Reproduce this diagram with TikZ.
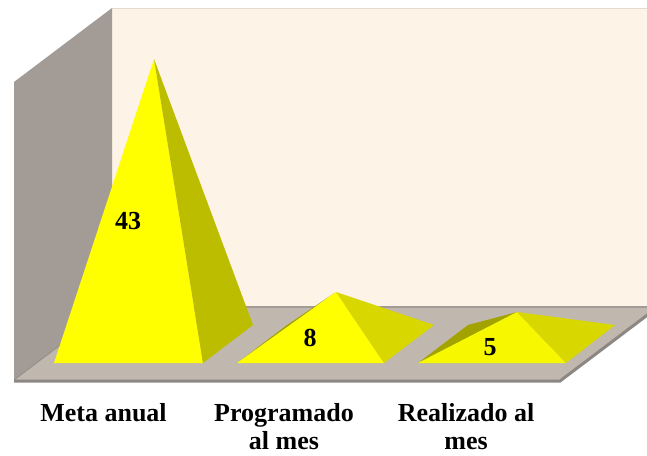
\documentclass[tikz,border=0pt]{standalone}
\usepackage{fontspec}
\setmainfont{Liberation Serif}
\definecolor{backwall}{HTML}{FDF3E6}
\definecolor{sidewall}{HTML}{A39B95}
\definecolor{floortop}{HTML}{C0B8AE}
\definecolor{flooredge}{HTML}{8C8782}
\definecolor{pyrfront}{HTML}{FFFF00}
\definecolor{pyrdark}{HTML}{BDBD00}
\definecolor{pyrmid}{HTML}{D8D800}
\definecolor{pyrleft}{HTML}{A3A300}

\begin{document}
\begin{tikzpicture}
        [x=1pt,y=-1pt,every node/.style={font=\fontsize{26}{28}\selectfont\bfseries,inner sep=0}]

        \useasboundingbox (0,0) rectangle (647,455);

        % walls and floor
        \fill[backwall] (112,8) rectangle (647,306);
        \draw[backwall!90!black, line width=0.6pt] (112,8) -- (647,8);
        \fill[sidewall] (14,82) -- (112,8) -- (112,306) -- (14,380) -- cycle;
        \begin{scope}
          \clip (0,0) rectangle (647,455);
          \fill[floortop] (112,306) -- (660,306) -- (562,380) -- (14,380) -- cycle;
          \draw[sidewall, line width=2pt] (112,307) -- (660,307);
          \draw[flooredge!80!sidewall, line width=0.8pt] (14,380) -- (112,306);
          \draw[flooredge, line width=3pt] (14,381) -- (560,381) -- (658,307);
        \end{scope}

        % corners of the pyramids
        \coordinate (p1fl) at (54,363);
        \coordinate (p1fr) at (203,363);
        \coordinate (p1br) at (253,325);
        \coordinate (p1bl) at (104,325);
        \coordinate (p1a) at (154,59);
        \coordinate (p2fl) at (237,363);
        \coordinate (p2fr) at (384,363);
        \coordinate (p2br) at (434,325);
        \coordinate (p2bl) at (287,325);
        \coordinate (p2a) at (336,292);
        \coordinate (p3fl) at (418,363);
        \coordinate (p3fr) at (566,363);
        \coordinate (p3br) at (615,325);
        \coordinate (p3bl) at (468,325);
        \coordinate (p3a) at (517,312);

        \fill[pyrfront] (p1fl) -- (p1fr) -- (p1a) -- cycle;
        \fill[pyrdark] (p1fr) -- (p1br) -- (p1a) -- cycle;

        \fill[pyrleft] (p2fl) -- (p2bl) -- (p2a) -- cycle;
        \fill[pyrfront] (p2fl) -- (p2fr) -- (p2a) -- cycle;
        \fill[pyrmid] (p2fr) -- (p2br) -- (p2a) -- cycle;

        \fill[pyrleft] (p3fl) -- (p3bl) -- (p3a) -- cycle;
        \fill[pyrfront!97!black] (p3fl) -- (p3fr) -- (p3a) -- cycle;
        \fill[pyrmid] (p3fr) -- (p3br) -- (p3a) -- cycle;

        % values
        \node (v1) at (128,221) {43};
        \node (v2) at (310,338) {8};
        \node (v3) at (490,347) {5};

        % categories
        \node[anchor=north] (c1) at (103.5,403.5) {Meta anual};
        \node[anchor=north, align=center] (c2) at (284,403.5) {Programado\\al mes};
        \node[anchor=north, align=center] (c3) at (466,403.5) {Realizado al\\mes};
      \end{tikzpicture}
\end{document}
